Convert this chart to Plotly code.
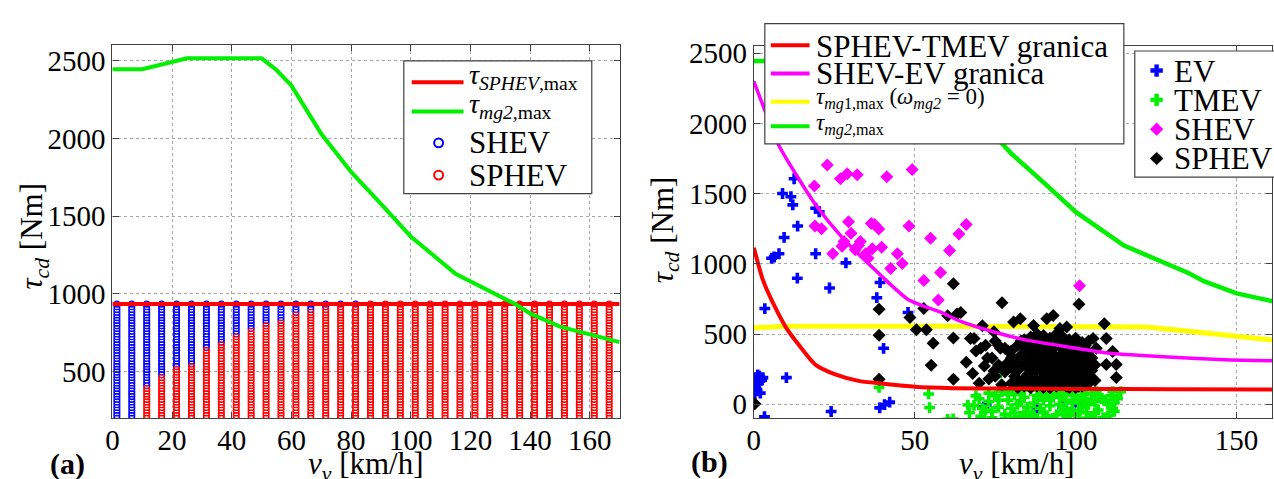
import plotly.graph_objects as go

W, H = 1274, 479
FONT = "Liberation Serif"

# ================= panel (a) data =================
speed_a = [1.5, 6.5, 11.5, 16.5, 21.5, 26.5, 31.5, 36.5, 41.5, 46.5, 51.5, 56.5,
           61.5, 66.5, 71.5, 76.5, 81.5, 86.5, 91.5, 96.5, 101.5, 106.5, 111.5,
           116.5, 121.5, 126.5, 131.5, 136.5, 141.5, 146.5, 151.5, 156.5, 161.5, 166.5]
# lowest torque at which the column is still SHEV (above: SHEV, below: SPHEV)
shev_min_torque = [200, 200, 401, 475, 527, 538, 644, 684, 738, 770, 800, 820,
                   870, 895, 905, 930, 930, 1000, 1000, 1000, 1000, 1000, 1000,
                   1000, 1000, 1000, 1000, 1000, 1000, 1000, 1000, 1000, 1000, 1000]
torque_levels = [200.0, 217.5, 235.0, 252.5, 270.0, 287.5, 305.0, 322.5, 340.0,
                 357.5, 375.0, 392.5, 410.0, 427.5, 445.0, 462.5, 480.0, 497.5,
                 515.0, 532.5, 550.0, 567.5, 585.0, 602.5, 620.0, 637.5, 655.0,
                 672.5, 690.0, 707.5, 725.0, 742.5, 760.0, 777.5, 795.0, 812.5,
                 830.0, 847.5, 865.0, 882.5, 900.0, 917.5, 935.0]
sphev_max_speed = [0, 170]
sphev_max_torque = [935, 935]
mg2_speed = [0, 10, 25, 50, 55, 60, 70, 80, 90, 100, 115, 130, 135, 140, 150, 160, 170]
mg2_torque = [2445, 2445, 2515, 2515, 2440, 2340, 2030, 1785, 1580, 1370, 1130, 980,
              935, 875, 790, 740, 690]

# ================= panel (b) data =================
sphev_tmev_speed = [0, 2.8, 6.9, 9.9, 14, 19.1, 25.3, 32.5, 39.7, 50, 62, 80, 100, 130, 161]
sphev_tmev_torque = [1115, 886, 677, 550, 422, 283, 213, 167, 148, 125, 115, 112, 110, 107, 105]
shev_ev_speed = [0, 3.8, 7.9, 19.2, 27.4, 37.7, 47.9, 58.2, 64.3, 74.6, 84.8, 100.2, 110.4, 125.8, 146.3, 161]
shev_ev_torque = [2300, 2070, 1837, 1420, 1188, 956, 747, 654, 590, 515, 457, 399, 364, 341, 318, 311]
mg1_speed = [0, 10, 60, 110, 122, 130, 140, 150, 161]
mg1_torque = [545, 555, 556, 553, 550, 532, 505, 482, 457]

ev_speed = [0.3, 0.6, 1.0, 1.2, 1.7, 2.4, 2.8, 0.5, 2.0, 1.5, 3.3, 3.4, 10.1, 9.4,
            6.3, 7.8, 5.5, 8.9, 11.5, 12.5, 12.1, 13.6, 13.5, 19.2, 19.2, 20.3, 23.5,
            28.6, 24.0, 38.2, 39.2, 40.3, 39.1, 40.6, 42.2, 47.9, 71.5, 72.2, 88, 96, 101]
ev_torque = [70, 120, 100, 210, 200, 170, 190, 190, 80, 150, -88, 682, 190, 1188,
             1049, 1072, 1040, 1501, 1478, 1606, 1420, 1269, 898, 1072, 1396, 1370, 828,
             1007, -51, 759, 867, 399, -25, -2, 16, 654, -18, -5, -30, -20, -10]

tmev_speed = [38.9, 54.3, 54.6, 60.2, 61.9, 66.5, 68.4, 70.5, 70, 72, 73, 74, 75, 76.6,
              76, 77, 78, 79, 79.7, 80, 81, 82, 82.8, 83, 84, 85, 86, 86.9, 87, 88, 88,
              89, 90, 91, 91, 92, 93, 94, 94, 95, 96, 96, 97, 97.2, 98, 99, 99, 100,
              100.2, 101, 101, 102, 102, 103, 103.3, 104, 105, 105, 106, 106.4, 107,
              108, 108.5, 109.5, 110, 111, 111.5, 111.5, 112, 84, 92, 78, 80,
              67, 69, 71, 73, 74, 76, 78, 79, 81, 83, 85, 87, 89, 90, 92, 93, 95, 97,
              98, 99, 101, 103, 104, 106, 107, 109, 110, 112, 113, 114]
tmev_torque = [121, 74, -23, -107, -104, -5, -8, -86, 40, -40, 20, -95, 60, 225,
               -20, 90, -70, 30, -100, -30, 70, 0, 20, -85, 50, -50, 100, -74, 10, -100, 60,
               -30, 30, -80, 80, -10, 50, -74, 100, 0, -50, 70, 30, -95, 90, -40, 10, 60,
               -74, -100, 20, -20, 90, 40, -60, 0, 70, -90, 20, 90, -40,
               40, -95, -97, 0, 60, -28, 90, 10, -95, 105, 105, 95,
               -60, 60, -30, 80, -50, 30, -100, 70, -60, 90, -20, -90, 60, -60, 40, -100,
               70, -30, -80, 100, -50, 80, -100, -60, 70, 30, -80, -50, 40, 90]

shev_speed = [18.8, 22.8, 26.9, 29.0, 32.1, 41.3, 49.2, 19.0, 24.5, 29.4, 30.2, 27.4,
              33.1, 36.5, 38.8, 34.7, 36.8, 39.7, 42.5, 44.6, 46.1, 48.2, 54.9, 52.8,
              58.0, 57.3, 60.8, 63.7, 66.0, 101.2, 21.0, 31.5, 35.5, 28.0, 37.5, 32.5]
shev_torque = [1555, 1703, 1606, 1641, 1634, 1620, 1671, 1269, 1072, 1299, 1218, 1125,
               1160, 1287, 1248, 1072, 1107, 1118, 967, 1072, 1002, 1269, 1183, 881,
               939, 743, 1095, 1212, 1280, 844, 1250, 1100, 1040, 1160, 1280, 1130]

sphev_speed = [0.3, 38.9, 38.9, 38.9, 48.5, 52.8, 50.5, 53.6, 55.7, 55.1, 62, 62, 62,
               63.1, 64.3, 77.1, 101, 108.9, 68.4, 70.5, 72.6, 71.6, 74.6, 76.6, 80.7,
               82.8, 86.9, 91, 93, 97.2, 95.1, 105.4, 109.5, 111.5, 112.6, 112.6, 109.5,
               106.4, 74.6, 67.3, 60.2,
               80, 80, 80, 81, 81, 82, 82, 83, 83, 84, 84, 84, 85, 85, 86, 86, 86, 87,
               87, 87, 88, 88, 88, 89, 89, 89, 90, 90, 90, 90, 91, 91, 91, 92, 92, 92,
               92, 93, 93, 93, 94, 94, 94, 95, 95, 95, 96, 96, 96, 97, 97, 97, 97, 98,
               98, 98, 99, 99, 99, 99, 100, 100, 100, 101, 101, 101, 101, 102, 102, 102,
               103, 103, 103, 104, 104, 104, 105, 105, 106, 106, 79, 78, 77, 76, 75, 74,
               78, 76, 83, 88, 94, 100, 86, 92, 98,
               84, 86, 88, 90, 92, 94, 96, 98, 100, 102, 104, 86, 90, 95, 99, 103,
               82, 84, 86, 88, 90, 92, 94, 96, 98, 100, 102, 104, 80, 82, 85, 88, 95,
               100, 103, 105,
               66, 68, 69, 70, 72, 73, 71, 75, 77, 79]
sphev_torque = [4, 677, 492, 178, 619, 682, 531, 531, 434, 278, 858, 473, 178,
                643, 654, 724, 712, 573, 469, 400, 330, 272, 237, 400, 586,
                609, 562, 609, 633, 551, 539, 469, 469, 376, 284, 191, 284,
                400, 516, 469, 631,
                150, 260, 380, 200, 320, 420, 240, 160, 350, 280, 130, 400, 210, 330, 150,
                260, 380, 190, 300, 430, 130, 240, 350, 170, 280, 400, 140, 220, 330, 440,
                180, 260, 370, 130, 230, 310, 410, 160, 270, 360, 200, 300, 420, 140, 250,
                340, 180, 280, 390, 130, 220, 320, 430, 170, 260, 360, 140, 230, 300, 410,
                180, 270, 350, 130, 220, 310, 400, 170, 260, 350, 140, 230, 320, 190, 280,
                370, 240, 330, 170, 280, 300, 230, 140, 280, 200, 330, 400, 420, 450, 460,
                470, 440, 118, 118, 120,
                460, 480, 500, 490, 470, 500, 480, 460, 470, 440, 450, 420, 400, 440, 380,
                420,
                120, 180, 200, 150, 120, 170, 130, 150, 140, 120, 130, 150, 330, 300, 270,
                320, 200, 250, 290, 190,
                300, 220, 380, 150, 420, 180, 560, 450, 260, 380]

# ================= build =================
shev_x, shev_y, sph_x, sph_y = [], [], [], []
for sp, lim in zip(speed_a, shev_min_torque):
    for tq in torque_levels:
        if tq >= lim:
            shev_x.append(sp); shev_y.append(tq)
        else:
            sph_x.append(sp); sph_y.append(tq)

RED, GREEN, BLUE, MAG, YEL = "#ff0000", "#00f000", "#0000ff", "#ff00ff", "#ffff00"

fig = go.Figure()
# panel a
fig.add_trace(go.Scatter(x=shev_x, y=shev_y, mode="markers", xaxis="x", yaxis="y",
                         marker=dict(symbol="circle-open", size=6, color=BLUE, line=dict(width=1.1)),
                         showlegend=False))
fig.add_trace(go.Scatter(x=sph_x, y=sph_y, mode="markers", xaxis="x", yaxis="y",
                         marker=dict(symbol="circle-open", size=6, color=RED, line=dict(width=1.1)),
                         showlegend=False))
fig.add_trace(go.Scatter(x=sphev_max_speed, y=sphev_max_torque, mode="lines", xaxis="x", yaxis="y",
                         line=dict(color=RED, width=4), showlegend=False))
fig.add_trace(go.Scatter(x=mg2_speed, y=mg2_torque, mode="lines", xaxis="x", yaxis="y",
                         line=dict(color=GREEN, width=4), showlegend=False))
# panel b
fig.add_trace(go.Scatter(x=mg2_speed, y=mg2_torque, mode="lines", xaxis="x2", yaxis="y2",
                         line=dict(color=GREEN, width=4.5), showlegend=False))
fig.add_trace(go.Scatter(x=mg1_speed, y=mg1_torque, mode="lines", xaxis="x2", yaxis="y2",
                         line=dict(color=YEL, width=5), showlegend=False))
fig.add_trace(go.Scatter(x=ev_speed, y=ev_torque, mode="markers", xaxis="x2", yaxis="y2",
                         marker=dict(symbol="cross", size=9, color=BLUE), showlegend=False))
fig.add_trace(go.Scatter(x=tmev_speed, y=tmev_torque, mode="markers", xaxis="x2", yaxis="y2",
                         marker=dict(symbol="cross", size=9, color=GREEN), showlegend=False))
fig.add_trace(go.Scatter(x=shev_speed, y=shev_torque, mode="markers", xaxis="x2", yaxis="y2",
                         marker=dict(symbol="diamond", size=10, color=MAG), showlegend=False))
fig.add_trace(go.Scatter(x=sphev_speed, y=sphev_torque, mode="markers", xaxis="x2", yaxis="y2",
                         marker=dict(symbol="diamond", size=10, color="black"), showlegend=False))
fig.add_trace(go.Scatter(x=shev_ev_speed, y=shev_ev_torque, mode="lines", xaxis="x2", yaxis="y2",
                         line=dict(color=MAG, width=3.5, shape="spline", smoothing=0.6), showlegend=False))
fig.add_trace(go.Scatter(x=sphev_tmev_speed, y=sphev_tmev_torque, mode="lines", xaxis="x2", yaxis="y2",
                         line=dict(color=RED, width=4, shape="spline", smoothing=0.6), showlegend=False))

axis_common = dict(showline=True, linecolor="#404040", linewidth=1.2, mirror="ticks",
                   ticks="inside", ticklen=6, tickcolor="#404040", showgrid=True,
                   gridcolor="#a8a8a8", griddash="dot", gridwidth=1, zeroline=False,
                   tickfont=dict(family=FONT, size=29, color="black"))

fig.update_layout(
    width=W, height=H, margin=dict(l=0, r=0, t=0, b=0),
    paper_bgcolor="white", plot_bgcolor="white", showlegend=False,
    xaxis=dict(axis_common, domain=[106 / W, 616 / W], range=[0, 170], ticklabelstandoff=-4,
               tickvals=[0, 20, 40, 60, 80, 100, 120, 140, 160], anchor="y"),
    yaxis=dict(axis_common, domain=[1 - 419 / H, 1 - 37 / H], range=[200, 2600],
               tickvals=[500, 1000, 1500, 2000, 2500], anchor="x"),
    xaxis2=dict(axis_common, domain=[751 / W, 1272 / W], range=[0, 161], ticklabelstandoff=-4,
                tickvals=[0, 50, 100, 150], anchor="y2"),
    yaxis2=dict(axis_common, domain=[1 - 419 / H, 1 - 38 / H], range=[-100, 2550],
                tickvals=[0, 500, 1000, 1500, 2000, 2500], anchor="x2"),
)

# ---------------- legends, titles (pixel helpers) ----------------
def fx(x):
    return x / W


def fy(y):
    return 1 - y / H


shapes, annos = [], []


def rect(x0, y0, x1, y1):
    shapes.append(dict(type="rect", xref="paper", yref="paper", x0=fx(x0), x1=fx(x1),
                       y0=fy(y1), y1=fy(y0), line=dict(color="#404040", width=1.2),
                       fillcolor="white", layer="above"))


def lsample(x0, x1, y, color, width=4):
    shapes.append(dict(type="line", xref="paper", yref="paper", x0=fx(x0), x1=fx(x1),
                       y0=fy(y), y1=fy(y), line=dict(color=color, width=width), layer="above"))


def circ(cx, cy, r, color):
    shapes.append(dict(type="circle", xref="paper", yref="paper", x0=fx(cx - r), x1=fx(cx + r),
                       y0=fy(cy + r), y1=fy(cy - r), line=dict(color=color, width=2), layer="above"))


def poly(pts, color):
    path = "M " + " L ".join(f"{fx(a):.5f},{fy(b):.5f}" for a, b in pts) + " Z"
    shapes.append(dict(type="path", xref="paper", yref="paper", path=path,
                       fillcolor=color, line=dict(color=color, width=0.5), layer="above"))


def diamond(cx, cy, r, color):
    poly([(cx - r, cy), (cx, cy - r), (cx + r, cy), (cx, cy + r)], color)


def plus(cx, cy, r, t, color):
    poly([(cx - t, cy - r), (cx + t, cy - r), (cx + t, cy - t), (cx + r, cy - t),
          (cx + r, cy + t), (cx + t, cy + t), (cx + t, cy + r), (cx - t, cy + r),
          (cx - t, cy + t), (cx - r, cy + t), (cx - r, cy - t), (cx - t, cy - t)], color)


def text(x, y, s, size, xanchor="left", angle=0):
    annos.append(dict(xref="paper", yref="paper", x=fx(x), y=fy(y), text=s, showarrow=False,
                      xanchor=xanchor, yanchor="middle", textangle=angle,
                      font=dict(family=FONT, size=size, color="black")))


# legend (a)
rect(399, 53, 588, 189)
lsample(407, 459, 75, RED)
lsample(407, 459, 105, GREEN)
circ(434, 137, 4.5, BLUE)
circ(434, 170, 4.5, RED)
text(463, 69, "<i>τ</i><sub><i>SPHEV</i>,max</sub>", 28)
text(463, 99, "<i>τ</i><sub><i>mg2</i>,max</sub>", 28)
text(463, 137, "SHEV", 31)
text(463, 170, "SPHEV", 31)

# legend (b) lines
rect(762, 15, 1123, 138)
lsample(768, 807, 37, RED)
lsample(768, 807, 66, MAG)
lsample(768, 807, 95, YEL)
lsample(768, 807, 120, GREEN)
text(811, 38, "SPHEV-TMEV granica", 31)
text(811, 66, "SHEV-EV granica", 31)
text(811, 92, "<i>τ</i><sub><i>mg</i>1,max</sub> (<i>ω</i><sub><i>mg2</i></sub> = 0)", 23)
text(811, 118, "<i>τ</i><sub><i>mg2</i>,max</sub>", 23)

# legend (b) markers
rect(1134, 43, 1290, 172)
plus(1156, 63, 6, 2, BLUE)
plus(1156, 93, 6, 2, GREEN)
diamond(1156, 123, 6.5, MAG)
diamond(1156, 153, 6.5, "black")
text(1171, 64, "EV", 31)
text(1171, 94, "TMEV", 31)
text(1171, 123, "SHEV", 31)
text(1171, 153, "SPHEV", 31)

# axis titles and panel labels
text(361, 468, "<i>v</i><sub><i>v</i></sub> [km/h]", 31, xanchor="center")
text(1016, 468, "<i>v</i><sub><i>v</i></sub> [km/h]", 31, xanchor="center")
text(27, 232, "<i>τ</i><sub><i>cd</i></sub> [Nm]", 31, xanchor="center", angle=-90)
text(661, 226, "<i>τ</i><sub><i>cd</i></sub> [Nm]", 31, xanchor="center", angle=-90)
text(61, 466, "<b>(a)</b>", 30, xanchor="center")
text(706, 464, "<b>(b)</b>", 30, xanchor="center")

fig.update_layout(shapes=shapes, annotations=annos)
fig.write_html("out.html", config={"displayModeBar": False},
               post_script="document.body.style.margin='0';document.body.style.overflow='hidden';")
